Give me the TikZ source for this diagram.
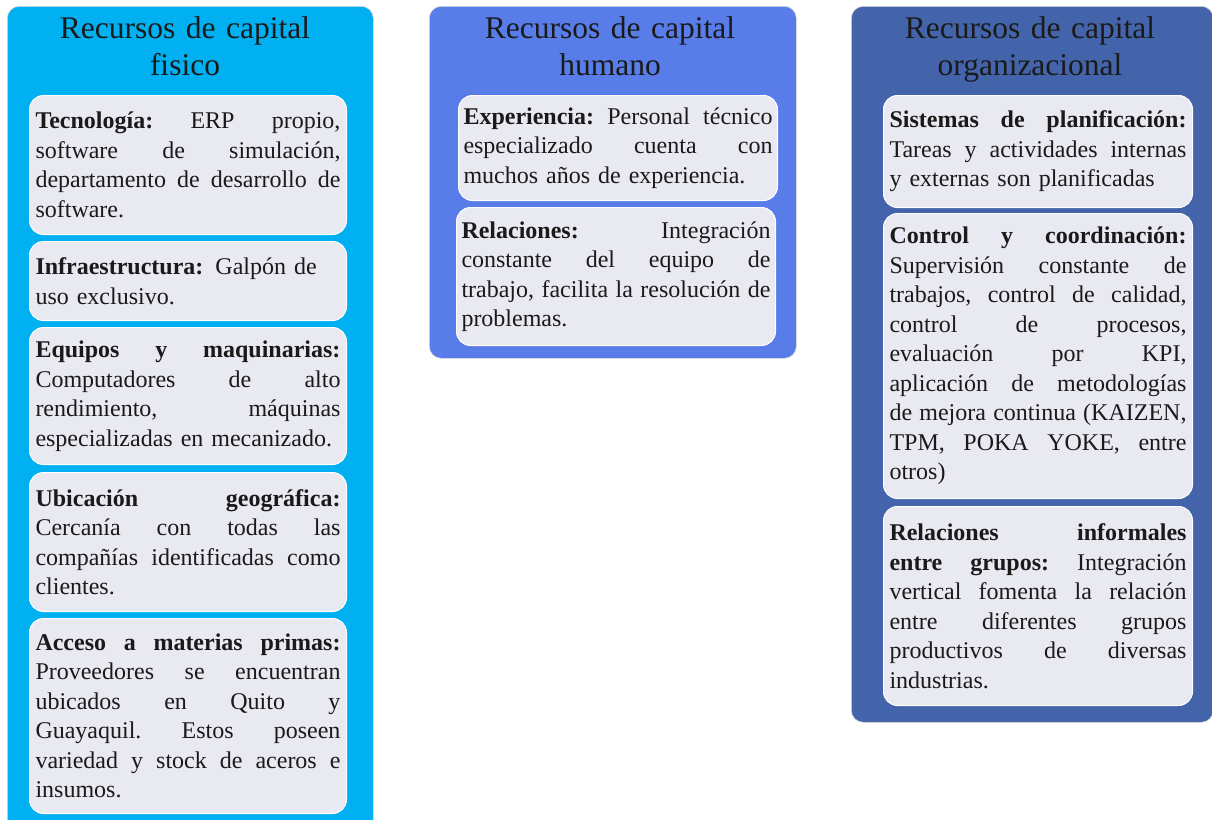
\documentclass[tikz,border=0pt]{standalone}
\usepackage{fontspec}
\setmainfont{Liberation Serif}
\definecolor{colA}{HTML}{00B0F0}
\definecolor{colB}{HTML}{587CE8}
\definecolor{colC}{HTML}{4364AA}
\definecolor{cardfill}{HTML}{E8E9F1}
\definecolor{ink}{HTML}{1A1A1A}
\newcommand\jl[1]{\leavevmode\hbox to\hsize{\frenchspacing\spaceskip=0pt\xspaceskip=0pt\relax #1}}
\tikzset{
  colbox/.style={draw=white!85!black, line width=0.6pt, rounded corners=12pt, anchor=north west, inner sep=0pt},
  titletext/.style={anchor=north, inner sep=0pt, text width=330pt, align=center, text=ink,
    font=\fontsize{31.5}{37.5}\selectfont},
  card/.style={draw=white, line width=1pt, fill=cardfill, rounded corners=14pt, anchor=north west,
    inner sep=0pt, text=ink, align=left, font=\fontsize{24}{29.5}\selectfont\setlength{\parindent}{0pt}},
}
\begin{document}
\begin{tikzpicture}[x=1pt,y=-1pt]
\useasboundingbox (0,0) rectangle (1212,819);
% columns
\node[colbox, fill=colA, minimum width=366pt, minimum height=840pt] (colfis) at (7,6) {};
\node[colbox, fill=colB, minimum width=367pt, minimum height=352pt] (colhum) at (429,6) {};
\node[colbox, fill=colC, minimum width=362pt, minimum height=716pt] (colorg) at (851,6) {};
% titles
\node[titletext] (tfis) at (185,16) {Recursos de capital\\fisico};
\node[titletext] (thum) at (610,16) {Recursos de capital\\humano};
\node[titletext] (torg) at (1030,16) {Recursos de capital\\organizacional};
% column 1 cards
\node[card, minimum width=317pt, minimum height=139pt, text width=305pt] (tec) at (29,95) {%
\jl{\textbf{Tecnología:} ERP propio,}\\
\jl{software de simulación,}\\
\jl{departamento de desarrollo de}\\
software.};
\node[card, minimum width=317pt, minimum height=79pt, text width=305pt] (inf) at (29,241) {%
\textbf{Infraestructura:} Galpón de\\
uso exclusivo.};
\node[card, minimum width=317pt, minimum height=137pt, text width=305pt] (equ) at (29,327) {%
\jl{\textbf{Equipos y maquinarias:}}\\
\jl{Computadores de alto}\\
\jl{rendimiento, máquinas}\\
especializadas en mecanizado.};
\node[card, minimum width=317pt, minimum height=139pt, text width=305pt] (ubi) at (29,472) {%
\jl{\textbf{Ubicación geográfica:}}\\
\jl{Cercanía con todas las}\\
\jl{compañías identificadas como}\\
clientes.};
\node[card, minimum width=317pt, minimum height=195pt, text width=305pt] (acc) at (29,618) {%
\jl{\textbf{Acceso a materias primas:}}\\
\jl{Proveedores se encuentran}\\
\jl{ubicados en Quito y}\\
\jl{Guayaquil. Estos poseen}\\
\jl{variedad y stock de aceros e}\\
insumos.};
% column 2 cards
\node[card, minimum width=319pt, minimum height=105pt, text width=309pt] (exp) at (458,95) {%
\jl{\textbf{Experiencia:} Personal técnico}\\
\jl{especializado cuenta con}\\
muchos años de experiencia.};
\node[card, minimum width=319pt, minimum height=138pt, text width=309pt] (rel) at (456,207) {%
\jl{\textbf{Relaciones:} Integración}\\
\jl{constante del equipo de}\\
\jl{trabajo, facilita la resolución de}\\
problemas.};
% column 3 cards
\node[card, minimum width=309pt, minimum height=112pt, text width=297pt] (sis) at (883,95) {%
\jl{\textbf{Sistemas de planificación:}}\\
\jl{Tareas y actividades internas}\\
y externas son planificadas};
\node[card, minimum width=309pt, minimum height=285pt, text width=297pt] (con) at (883,213) {%
\jl{\textbf{Control y coordinación:}}\\
\jl{Supervisión constante de}\\
\jl{trabajos, control de calidad,}\\
\jl{control de procesos,}\\
\jl{evaluación por KPI,}\\
\jl{aplicación de metodologías}\\
\jl{de mejora continua (KAIZEN,}\\
\jl{TPM, POKA YOKE, entre}\\
otros)};
\node[card, minimum width=309pt, minimum height=199pt, text width=297pt] (rin) at (883,506) {%
\jl{\textbf{Relaciones informales}}\\
\jl{\textbf{entre grupos:} Integración}\\
\jl{vertical fomenta la relación}\\
\jl{entre diferentes grupos}\\
\jl{productivos de diversas}\\
industrias.};
\end{tikzpicture}
\end{document}
